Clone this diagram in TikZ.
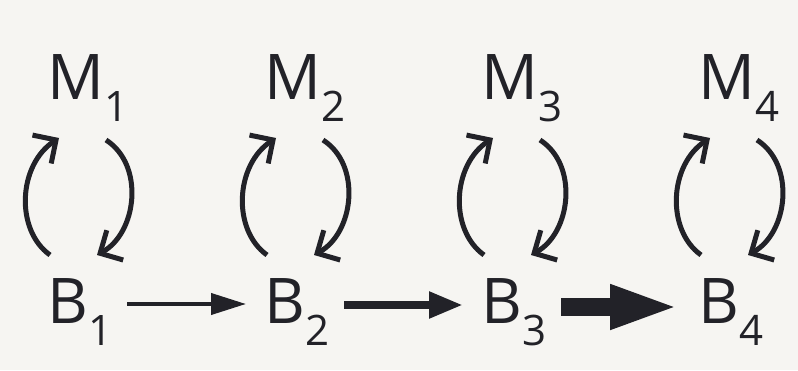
\documentclass[tikz,border=0pt]{standalone}
\usepackage{fontspec}
\setmainfont{Open Sans}
\usepackage{tikz}
\usetikzlibrary{arrows.meta, calc}
\definecolor{paper}{RGB}{246,245,242}
\definecolor{ink}{RGB}{34,34,40}
\tikzset{
  letter/.style={font=\fontsize{63}{63}\selectfont, text=ink, inner sep=0pt, anchor=base west}
}
\tikzset{
  cyc/.style={line width=5pt, draw=ink, -{Straight Barb[length=17pt,width=34pt]}}
}
\tikzset{
  linkA/.style={draw=ink, fill=ink, line width=4pt, shorten <=15pt, shorten >=18pt, -{Triangle[length=35pt,width=21pt]}},
  linkB/.style={draw=ink, fill=ink, line width=8pt, shorten <=15pt, shorten >=18pt, -{Triangle[length=34pt,width=25pt]}},
  linkC/.style={draw=ink, fill=ink, line width=18pt, shorten <=15pt, shorten >=18pt, -{Triangle[length=70pt,width=40pt]}}
}
\newcommand{\idx}[1]{\raisebox{-22pt}{\fontsize{42}{42}\selectfont #1}}

\begin{document}
\begin{tikzpicture}[x=1pt,y=1pt]
  \fill[paper] (0,0) rectangle (798,370);
  \useasboundingbox (0,0) rectangle (798,370);
  \foreach \i in {1,...,4} {
    \node[letter] (M\i) at ({47+217*(\i-1)},270) {M\idx{\i}};
    \node[letter] (B\i) at ({47+217*(\i-1)},47) {B\idx{\i}};
  }
  % exchange loops between M and B
  \foreach \i in {1,...,4} {
    \draw[cyc] ($(B\i.base west)+(3,68)$) .. controls ($(B\i.base west)+(-32,93)$)
      and ($(M\i.base west)+(-29,-65)$) .. ($(M\i.base west)+(12,-38)$);
    \draw[cyc] ($(M\i.base west)+(59,-40)$) .. controls ($(M\i.base west)+(98,-65)$)
      and ($(B\i.base west)+(90,90)$) .. ($(B\i.base west)+(50,68)$);
  }
  \draw[linkA] ([yshift=19pt]B1.base east) -- ([yshift=19pt]B2.base west);
  \draw[linkB] ([yshift=18pt]B2.base east) -- ([yshift=18pt]B3.base west);
  \draw[linkC] ([yshift=16pt]B3.base east) -- ([yshift=16pt]B4.base west);
\end{tikzpicture}
\end{document}
